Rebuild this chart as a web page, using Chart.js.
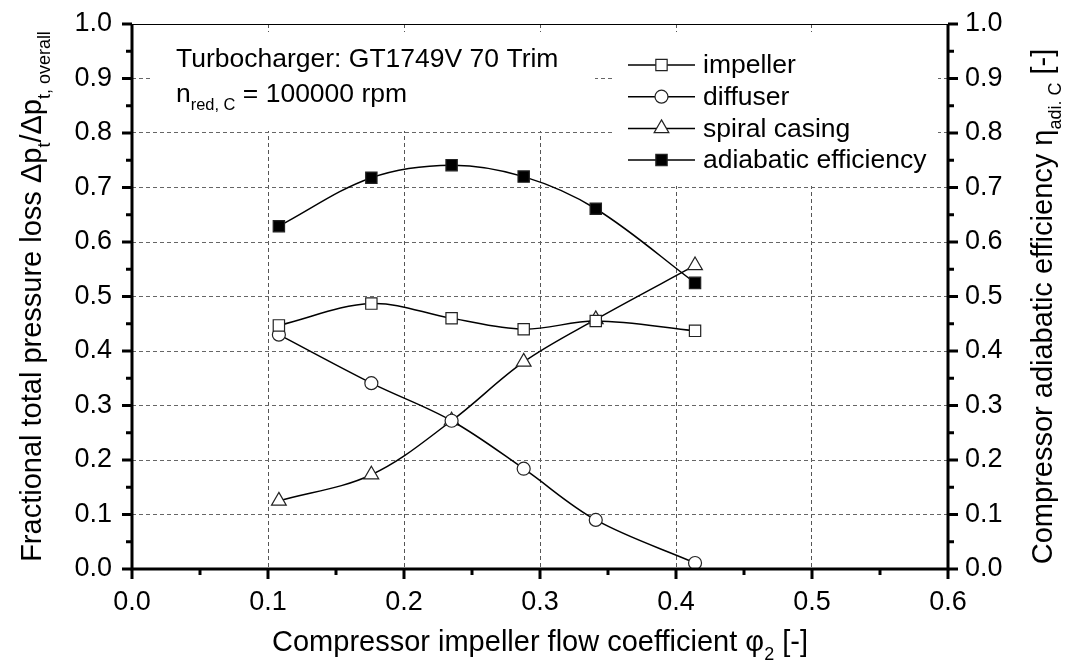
<!DOCTYPE html>
<html>
<head>
<meta charset="utf-8">
<script src="https://cdn.jsdelivr.net/npm/chart.js@4"></script>
<style>
  html, body { margin: 0; padding: 0; background: #fff; }
  #wrap { width: 1066px; height: 666px; }
</style>
</head>
<body>
<div id="wrap"><canvas id="chart" width="1066" height="666"></canvas></div>
<script>
// values
const phi = [0.108, 0.176, 0.235, 0.288, 0.341, 0.414];
const impeller = [0.447, 0.487, 0.460, 0.440, 0.455, 0.437];
const diffuser = [0.430, 0.341, 0.272, 0.184, 0.090, 0.011];
const spiral = [0.125, 0.173, 0.272, 0.380, 0.458, 0.557];
const efficiency = [0.629, 0.718, 0.741, 0.720, 0.661, 0.525];

const seriesNames = ["impeller", "diffuser", "spiral casing", "adiabatic efficiency"];
const noteLine = "Turbocharger: GT1749V 70 Trim";

const FONT = '"Liberation Sans", Arial, sans-serif';

function pts(ys) {
  return phi.map((x, i) => ({ x: x, y: ys[i] }));
}

function serie(label, ys, style, fill, radius, axis) {
  return {
    label: label,
    data: pts(ys),
    yAxisID: axis,
    borderColor: "#000",
    borderWidth: 1.5,
    tension: 0.35,
    pointStyle: style,
    pointRadius: radius,
    pointHoverRadius: radius,
    pointBackgroundColor: fill,
    pointBorderColor: "#222",
    pointBorderWidth: 1.2
  };
}

// text with subscript parts: [["text", false], ["sub", true]]
function drawRich(ctx, parts, x, y, size, align) {
  const sub = size * 0.62;
  let w = 0;
  parts.forEach(p => {
    ctx.font = (p[1] ? sub : size) + "px " + FONT;
    w += ctx.measureText(p[0]).width;
  });
  let cx = align === "center" ? x - w / 2 : x;
  ctx.textAlign = "left";
  ctx.textBaseline = "alphabetic";
  parts.forEach(p => {
    ctx.font = (p[1] ? sub : size) + "px " + FONT;
    ctx.fillText(p[0], cx, p[1] ? y + size * 0.3 : y);
    cx += ctx.measureText(p[0]).width;
  });
}

const decorations = {
  id: "decorations",
  beforeDatasetsDraw(chart) {
    const ctx = chart.ctx;
    const a = chart.chartArea;
    ctx.save();
    ctx.fillStyle = "#fff";
    // boxes behind note and legend hide the grid
    ctx.fillRect(a.left + 21, a.top + 8, 442, 99);
    ctx.fillRect(a.left + 481, a.top + 8, 325, 154);
    ctx.restore();
  },
  afterDraw(chart) {
    const ctx = chart.ctx;
    const a = chart.chartArea;
    const sx = chart.scales.x, sy = chart.scales.y, sy2 = chart.scales.y2;
    ctx.save();
    ctx.setLineDash([]);
    ctx.fillStyle = "#000";
    ctx.strokeStyle = "#000";

    // frame: thin top, thick left / bottom / right
    ctx.lineWidth = 1;
    ctx.beginPath();
    ctx.moveTo(a.left, a.top + 0.5);
    ctx.lineTo(a.right, a.top + 0.5);
    ctx.stroke();
    ctx.lineWidth = 3;
    ctx.beginPath();
    ctx.moveTo(a.left, a.top);
    ctx.lineTo(a.left, a.bottom);
    ctx.lineTo(a.right, a.bottom);
    ctx.lineTo(a.right, a.top);
    ctx.stroke();

    // tick marks, major and minor
    for (let k = 0; k <= 12; k++) {
      const v = k * 0.05;
      const len = k % 2 === 0 ? 10 : 6;
      const px = sx.getPixelForValue(v);
      ctx.beginPath();
      ctx.moveTo(px, a.bottom);
      ctx.lineTo(px, a.bottom + len);
      ctx.stroke();
    }
    for (let k = 0; k <= 20; k++) {
      const v = k * 0.05;
      const len = k % 2 === 0 ? 10 : 6;
      const py = sy.getPixelForValue(v);
      const py2 = sy2.getPixelForValue(v);
      ctx.beginPath();
      ctx.moveTo(a.left, py);
      ctx.lineTo(a.left - len, py);
      ctx.moveTo(a.right, py2);
      ctx.lineTo(a.right + len, py2);
      ctx.stroke();
    }

    // axis titles
    drawRich(ctx, [["Compressor impeller flow coefficient \u03c6", false], ["2", true], [" [-]", false]],
      (a.left + a.right) / 2, 651, 29, "center");

    ctx.save();
    ctx.translate(41, (a.top + a.bottom) / 2);
    ctx.rotate(-Math.PI / 2);
    drawRich(ctx, [["Fractional total pressure loss \u0394p", false], ["t", true], ["/\u0394p", false], ["t, overall", true]],
      0, 0, 29, "center");
    ctx.restore();

    ctx.save();
    ctx.translate(1052, (a.top + a.bottom) / 2 + 10);
    ctx.rotate(-Math.PI / 2);
    drawRich(ctx, [["Compressor adiabatic efficiency \u03b7", false], ["adi. C", true], [" [-]", false]],
      0, 0, 29, "center");
    ctx.restore();

    // note
    drawRich(ctx, [[noteLine, false]], a.left + 44, a.top + 43, 26.5, "left");
    drawRich(ctx, [["n", false], ["red, C", true], [" = 100000 rpm", false]], a.left + 44, a.top + 78, 26.5, "left");

    // legend
    const lx0 = a.left + 496, lx1 = a.left + 563, tx = a.left + 571;
    chart.data.datasets.forEach((ds, i) => {
      const y = a.top + 41 + i * 31.7;
      ctx.lineWidth = 1.5;
      ctx.strokeStyle = "#000";
      ctx.beginPath();
      ctx.moveTo(lx0, y);
      ctx.lineTo(lx1, y);
      ctx.stroke();
      ctx.fillStyle = ds.pointBackgroundColor;
      ctx.strokeStyle = ds.pointBorderColor;
      ctx.lineWidth = ds.pointBorderWidth;
      Chart.helpers.drawPoint(ctx, { pointStyle: ds.pointStyle, radius: ds.pointRadius, borderWidth: ds.pointBorderWidth, rotation: 0 },
        (lx0 + lx1) / 2, y);
      ctx.fillStyle = "#000";
      ctx.font = "26.5px " + FONT;
      ctx.textAlign = "left";
      ctx.textBaseline = "middle";
      ctx.fillText(seriesNames[i], tx, y + 1);
    });
    ctx.restore();
  }
};

const tickFont = { family: FONT, size: 27 };
const fmt = v => v.toFixed(1);

function fixY(width) {
  return s => { s.width = width; s.paddingTop = 0; s.paddingBottom = 0; };
}

new Chart(document.getElementById("chart"), {
  type: "line",
  data: {
    datasets: [
      serie(seriesNames[0], impeller, "rect", "#fff", 8, "y"),
      serie(seriesNames[1], diffuser, "circle", "#fff", 6.5, "y"),
      serie(seriesNames[2], spiral, "triangle", "#fff", 8.5, "y"),
      serie(seriesNames[3], efficiency, "rect", "#000", 8, "y2")
    ]
  },
  options: {
    responsive: false,
    animation: false,
    layout: { padding: { top: 24, left: 0, right: 0, bottom: 0 } },
    plugins: { legend: { display: false }, tooltip: { enabled: false } },
    scales: {
      x: {
        type: "linear",
        min: 0, max: 0.6,
        ticks: { stepSize: 0.1, padding: 17, color: "#000", font: tickFont, callback: fmt },
        grid: { color: "#555", lineWidth: 1, drawTicks: false },
        border: { display: false, dash: [4, 3] },
        afterFit: s => { s.height = 97; s.paddingLeft = 0; s.paddingRight = 0; }
      },
      y: {
        position: "left",
        min: 0, max: 1,
        ticks: { stepSize: 0.1, padding: 20, color: "#000", font: tickFont, callback: fmt },
        grid: { color: "#666", lineWidth: 1, drawTicks: false },
        border: { display: false, dash: [4, 3] },
        afterFit: fixY(132)
      },
      y2: {
        position: "right",
        min: 0, max: 1,
        ticks: { stepSize: 0.1, padding: 17, color: "#000", font: tickFont, callback: fmt },
        grid: { display: false, drawTicks: false },
        border: { display: false },
        afterFit: fixY(118)
      }
    }
  },
  plugins: [decorations]
});
</script>
</body>
</html>
